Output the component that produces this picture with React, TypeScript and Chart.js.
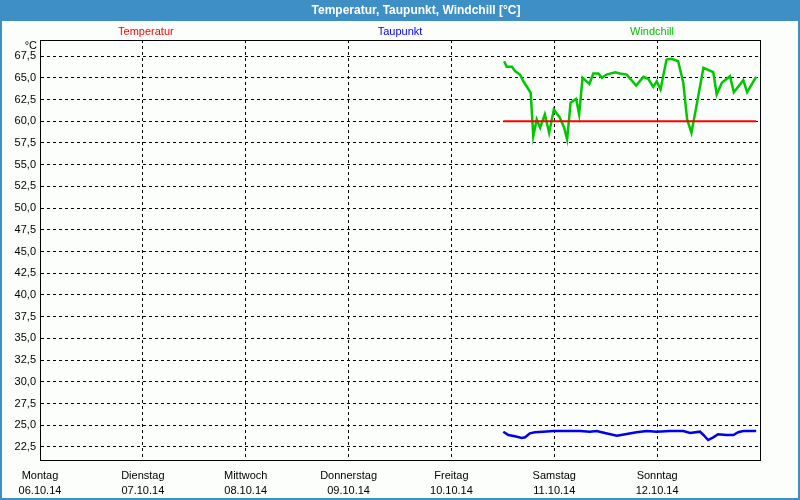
import { useEffect, useRef } from "react";
import { Chart, registerables } from "chart.js";

Chart.register(...registerables);

const chartTitle = "Temperatur, Taupunkt, Windchill [°C]";
const dayNames = ["Montag", "Dienstag", "Mittwoch", "Donnerstag", "Freitag", "Samstag", "Sonntag"];
const dayDates = ["06.10.14", "07.10.14", "08.10.14", "09.10.14", "10.10.14", "11.10.14", "12.10.14"];
const dayHours = [0, 24, 48, 72, 96, 120, 144];
const yTickValues = [22.5, 25, 27.5, 30, 32.5, 35, 37.5, 40, 42.5, 45, 47.5, 50, 52.5, 55, 57.5, 60, 62.5, 65, 67.5];

const temperaturHours = [108.1, 167.1];
const temperaturValues = [60.0, 60.0];

const taupunktHours = [108.1, 109.3, 110.8, 112.4, 113.2, 114.3, 115.5, 117.4, 119.8, 126.0, 128.3, 129.9, 131.8, 134.6, 136.9, 139.2, 141.6, 143.9, 147.0, 150.1, 151.7, 154.0, 154.8, 155.9, 157.1, 158.2, 160.2, 161.8, 162.9, 164.1, 167.1];
const taupunktValues = [24.26, 23.88, 23.73, 23.53, 23.61, 24.07, 24.19, 24.26, 24.34, 24.34, 24.26, 24.34, 24.11, 23.8, 24.0, 24.19, 24.34, 24.26, 24.34, 24.34, 24.11, 24.26, 23.88, 23.3, 23.61, 23.96, 23.88, 23.88, 24.19, 24.34, 24.34];

const windchillHours = [108.3, 108.9, 110.1, 110.9, 112.0, 112.8, 114.0, 114.5, 115.1, 115.9, 116.7, 117.8, 118.8, 119.9, 121.3, 122.3, 123.0, 123.8, 125.1, 125.8, 126.6, 128.2, 129.1, 130.3, 131.1, 132.2, 134.2, 135.3, 136.9, 139.1, 140.8, 141.9, 143.1, 143.9, 144.8, 145.4, 146.2, 147.4, 148.9, 150.1, 151.0, 152.0, 153.1, 154.8, 157.1, 157.9, 159.1, 161.0, 161.9, 164.1, 165.0, 167.1];
const windchillValues = [66.9, 66.26, 66.26, 65.75, 65.37, 64.6, 63.65, 63.27, 58.28, 60.2, 59.25, 60.78, 58.67, 61.35, 60.4, 59.25, 57.9, 62.12, 62.58, 60.78, 65.0, 64.3, 65.49, 65.49, 65.0, 65.37, 65.64, 65.49, 65.37, 64.1, 65.11, 64.88, 63.96, 64.6, 63.65, 65.18, 67.1, 67.18, 66.9, 64.42, 60.2, 58.67, 61.55, 66.14, 65.64, 63.07, 64.42, 65.18, 63.34, 64.72, 63.34, 65.11];

const toPoints = (xs: number[], ys: number[]) => xs.map((x, i) => ({ x, y: ys[i] }));

const FONT = "'Liberation Sans', Arial, sans-serif";
const FRAME_BLUE = "#3d8fc6";
const BG = "#fbfefb";

const decorations = {
  id: "decorations",
  beforeDraw(chart: any) {
    const { ctx, width, height } = chart;
    ctx.save();
    ctx.fillStyle = BG;
    ctx.fillRect(0, 0, width, height);
    ctx.restore();
  },
  afterDraw(chart: any) {
    const { ctx, width, height, chartArea } = chart;
    ctx.save();
    // plot frame
    ctx.strokeStyle = "#000";
    ctx.lineWidth = 1;
    ctx.strokeRect(Math.round(chartArea.left) + 0.5, Math.round(chartArea.top) + 0.5, Math.round(chartArea.right - chartArea.left), Math.round(chartArea.bottom - chartArea.top));
    // outer frame + title bar
    ctx.fillStyle = FRAME_BLUE;
    ctx.fillRect(0, 0, width, 21);
    ctx.fillRect(0, 0, 2, height);
    ctx.fillRect(width - 2, 0, 2, height);
    ctx.fillRect(0, height - 2, width, 2);
    ctx.fillStyle = "#fff";
    ctx.font = `bold 12px ${FONT}`;
    ctx.textAlign = "center";
    ctx.textBaseline = "middle";
    ctx.fillText(chartTitle, 416, 11);
    // series labels
    const w = chartArea.right - chartArea.left;
    ctx.font = `11px ${FONT}`;
    const labels = [
      { t: "Temperatur", c: "#ff0000", f: 0.147 },
      { t: "Taupunkt", c: "#0000ff", f: 0.5 },
      { t: "Windchill", c: "#00c000", f: 0.85 },
    ];
    for (const l of labels) {
      ctx.fillStyle = l.c;
      ctx.fillText(l.t, chartArea.left + w * l.f, 32);
    }
    // unit
    ctx.fillStyle = "#000";
    ctx.textAlign = "right";
    ctx.fillText("°C", 37, 46);
    ctx.restore();
  },
};

export default function App() {
  const ref = useRef<HTMLCanvasElement>(null);
  useEffect(() => {
    document.body.style.margin = "0";
    const chart = new Chart(ref.current!, {
      type: "line",
      data: {
        datasets: [
          { label: "Temperatur", data: toPoints(temperaturHours, temperaturValues), borderColor: "#ff0000", borderWidth: 2, pointRadius: 0, tension: 0 },
          { label: "Taupunkt", data: toPoints(taupunktHours, taupunktValues), borderColor: "#0000ee", borderWidth: 2.5, pointRadius: 0, tension: 0 },
          { label: "Windchill", data: toPoints(windchillHours, windchillValues), borderColor: "#00c800", borderWidth: 2.5, pointRadius: 0, tension: 0 },
        ],
      },
      options: {
        responsive: false,
        animation: false,
        events: [],
        layout: { padding: { top: 40, right: 40, left: 0, bottom: 0 } },
        plugins: { legend: { display: false }, tooltip: { enabled: false }, title: { display: false } },
        scales: {
          x: {
            type: "linear",
            min: 0,
            max: 168,
            afterBuildTicks: (s: any) => {
              s.ticks = dayHours.map((v) => ({ value: v }));
            },
            afterFit: (s: any) => {
              s.height = 40;
            },
            ticks: {
              callback: (_v: any, i: number) => [dayNames[i], dayDates[i]],
              color: "#000",
              font: { family: FONT, size: 11, lineHeight: 1.4 },
              padding: 8,
              maxRotation: 0,
              autoSkip: false,
            },
            grid: { color: "#000", drawTicks: false, lineWidth: 1 },
            border: { display: true, color: "#000", dash: [3, 3] },
          },
          y: {
            type: "linear",
            min: 21,
            max: 69.35,
            afterBuildTicks: (s: any) => {
              s.ticks = yTickValues.map((v) => ({ value: v }));
            },
            afterFit: (s: any) => {
              s.width = 40;
            },
            ticks: {
              callback: (v: any) => Number(v).toFixed(1).replace(".", ","),
              color: "#000",
              font: { family: FONT, size: 11 },
              padding: 4,
            },
            grid: { color: "#000", drawTicks: false, lineWidth: 1 },
            border: { display: true, color: "#000", dash: [3, 3] },
          },
        },
      },
      plugins: [decorations],
    } as any);
    return () => chart.destroy();
  }, []);
  return <canvas ref={ref} width={800} height={500} style={{ display: "block" }} />;
}
